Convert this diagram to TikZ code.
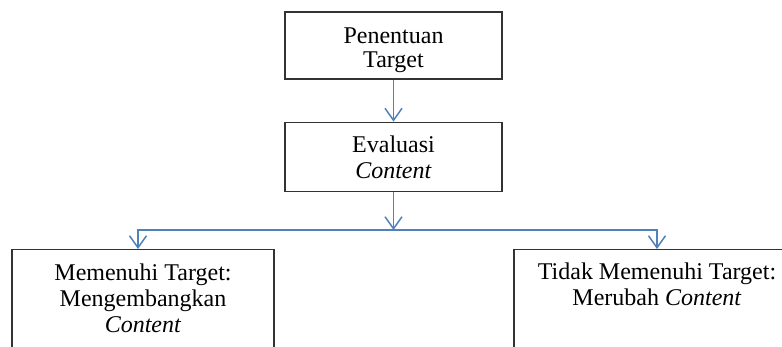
\documentclass[tikz,border=0pt]{standalone}
\usepackage{fontspec}
\setmainfont{Liberation Serif}
\usetikzlibrary{positioning,arrows.meta}
\definecolor{garis}{RGB}{79,129,189}

\begin{document}
\begin{tikzpicture}[kotak/.style={draw=black!80, line width=1.2pt},
                   teks/.style={align=center, inner sep=0pt, font=\fontsize{24}{26}\selectfont},
                   panah/.style={draw=garis, line width=1.5pt, -{Straight Barb[length=12pt,width=17pt]}}]
\useasboundingbox (0,0) rectangle (782pt,-346pt);
\clip (0,0) rectangle (782pt,-346pt);
\node[kotak, minimum width=217pt, minimum height=67pt] (target) at (393.5pt,-45.5pt) {};
\node[teks, below=16pt of target.north] (targetteks) {Penentuan\\[-2pt]Target};
\node[kotak, minimum width=217pt, minimum height=69pt, below=42pt of target] (evaluasi) {};
\node[teks, below=14.3pt of evaluasi.north] (evaluasiteks) {Evaluasi\\\textit{Content}};
\node[kotak, minimum width=262pt, minimum height=120pt, anchor=north] (memenuhi) at (143pt,-249pt) {};
\node[teks, below=14.6pt of memenuhi.north] (memenuhiteks) {Memenuhi Target:\\Mengembangkan\\\textit{Content}};
\node[kotak, minimum width=286pt, minimum height=120pt, anchor=north] (tidak) at (657pt,-249pt) {};
\node[teks, below=13.6pt of tidak.north] (tidakteks) {Tidak Memenuhi Target:\\Merubah \textit{Content}};
\coordinate (cabang) at (393.5pt,-230pt);
\draw[panah] (target) -- (evaluasi);
\draw[panah] (evaluasi) -- (cabang);
\draw[panah] (cabang) -| ([xshift=-5pt]memenuhi.north);
\draw[panah] (cabang) -| (tidak);
\end{tikzpicture}
\end{document}
